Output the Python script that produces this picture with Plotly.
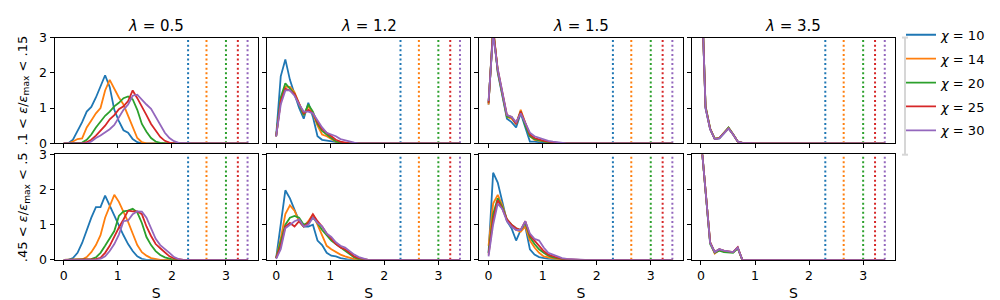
import plotly.graph_objects as go

# S grid (bin positions) shared by every panel, 41 points from 0 to 3.4
S_STEP = 0.085
S = [round(i * S_STEP, 3) for i in range(41)]

CHI = [10, 14, 20, 25, 30]
COLORS = ["#1f77b4", "#ff7f0e", "#2ca02c", "#d62728", "#9467bd"]
LAMBDAS = ["0.5", "1.2", "1.5", "3.5"]
ROW_LABELS = [".1 < <i>ε</i>/<i>ε</i><sub>max</sub> < .15",
              ".45 < <i>ε</i>/<i>ε</i><sub>max</sub> < .5"]
# dotted markers, S_max for each chi
S_MAX = [2.30, 2.64, 3.00, 3.22, 3.40]

# distributions (leading part only, the rest is zero)
LAM05_TOP = [
    [0, 0, 0.1, 0.35, 0.6, 0.9, 1.03, 1.3, 1.6, 1.93, 1.6, 0.95, 0.63, 0.37, 0.3, 0.12, 0.03],
    [0, 0, 0.05, 0.12, 0.14, 0.45, 0.65, 0.85, 1.0, 1.5, 1.8, 1.55, 1.3, 1.1, 0.8, 0.45, 0.15, 0.03],
    [0, 0, 0, 0, 0.02, 0.1, 0.25, 0.45, 0.62, 0.78, 0.9, 1.05, 1.15, 1.28, 1.33, 1.25, 0.95, 0.55,
     0.33, 0.15, 0.05, 0.01],
    [0, 0, 0, 0, 0, 0.03, 0.1, 0.22, 0.35, 0.5, 0.68, 0.8, 0.97, 1.05, 1.2, 1.5, 1.28, 1.02, 0.8,
     0.55, 0.35, 0.18, 0.07, 0.02],
    [0, 0, 0, 0, 0, 0, 0.05, 0.15, 0.22, 0.3, 0.4, 0.52, 0.75, 0.95, 1.1, 1.35, 1.38, 1.23, 1.1,
     0.98, 0.75, 0.5, 0.3, 0.15, 0.06, 0.01],
]
LAM05_BOT = [
    [0, 0, 0.05, 0.2, 0.48, 0.85, 1.2, 1.5, 1.5, 1.83, 1.55, 1.25, 0.95, 0.7, 0.45, 0.25, 0.1, 0.03],
    [0, 0, 0, 0, 0.01, 0.08, 0.22, 0.42, 0.7, 1.2, 1.55, 1.85, 1.65, 1.38, 1.08, 0.75, 0.42, 0.22,
     0.12, 0.05, 0.02],
    [0, 0, 0, 0, 0, 0, 0.02, 0.07, 0.2, 0.4, 0.6, 0.82, 1.25, 1.38, 1.4, 1.45, 1.35, 1.05, 0.65,
     0.42, 0.25, 0.14, 0.07, 0.03],
    [0, 0, 0, 0, 0, 0, 0, 0.02, 0.06, 0.2, 0.4, 0.68, 0.92, 1.15, 1.4, 1.38, 1.38, 1.3, 0.95, 0.68,
     0.45, 0.33, 0.22, 0.1, 0.04, 0.01],
    [0, 0, 0, 0, 0, 0, 0, 0, 0.03, 0.1, 0.25, 0.45, 0.72, 1.1, 1.12, 1.3, 1.38, 1.37, 1.2, 0.9,
     0.6, 0.42, 0.32, 0.2, 0.08, 0.02],
]
LAM12_TOP = [
    [0.2, 1.9, 2.38, 1.8, 1.4, 1.0, 0.7, 1.15, 0.75, 0.2, 0.1, 0.08, 0.05, 0.02],
    [0.2, 1.2, 1.6, 1.6, 1.45, 1.1, 0.8, 1.05, 0.85, 0.5, 0.25, 0.2, 0.12, 0.05, 0.02],
    [0.2, 1.3, 1.7, 1.55, 1.4, 1.1, 0.8, 1.1, 0.9, 0.55, 0.35, 0.25, 0.15, 0.05, 0.02],
    [0.2, 1.2, 1.55, 1.5, 1.4, 1.1, 0.85, 0.95, 0.85, 0.6, 0.4, 0.3, 0.2, 0.1, 0.05, 0.02],
    [0.2, 1.1, 1.5, 1.5, 1.35, 1.1, 0.9, 0.9, 0.85, 0.65, 0.45, 0.3, 0.25, 0.2, 0.12, 0.08, 0.05,
     0.02],
]
LAM12_BOT = [
    [0.05, 1.0, 1.98, 1.75, 1.4, 1.1, 0.95, 0.95, 1.0, 0.55, 0.42, 0.2, 0.12, 0.1, 0.05, 0.02],
    [0.05, 0.6, 1.3, 1.55, 1.4, 1.1, 0.95, 1.1, 1.3, 1.0, 0.7, 0.4, 0.3, 0.22, 0.15, 0.1, 0.05, 0.02],
    [0.05, 0.5, 1.0, 1.2, 1.25, 1.2, 1.0, 1.05, 1.2, 1.05, 0.85, 0.7, 0.55, 0.45, 0.35, 0.25, 0.15,
     0.07, 0.02],
    [0.05, 0.4, 0.95, 1.05, 0.95, 1.1, 0.95, 1.05, 1.3, 1.1, 0.95, 0.75, 0.6, 0.45, 0.35, 0.3, 0.2,
     0.1, 0.05, 0.02],
    [0.03, 0.3, 0.9, 1.0, 1.1, 1.15, 0.95, 1.0, 1.2, 1.05, 0.95, 0.75, 0.65, 0.5, 0.4, 0.35, 0.25,
     0.15, 0.08, 0.03],
]
LAM15_TOP = [
    [1.1, 3.3, 2.0, 1.35, 0.7, 0.6, 0.45, 0.85, 0.45, 0.05, 0.05, 0.03, 0.02],
    [1.1, 3.3, 2.05, 1.4, 0.75, 0.7, 0.55, 0.95, 0.55, 0.2, 0.1, 0.08, 0.05, 0.03, 0.02],
    [1.15, 3.2, 2.05, 1.4, 0.75, 0.75, 0.55, 0.9, 0.5, 0.2, 0.12, 0.08, 0.05, 0.03, 0.02],
    [1.15, 3.2, 2.1, 1.4, 0.8, 0.75, 0.55, 0.9, 0.55, 0.25, 0.15, 0.1, 0.07, 0.05, 0.03, 0.02],
    [1.2, 3.1, 2.1, 1.4, 0.8, 0.75, 0.6, 0.85, 0.55, 0.3, 0.2, 0.15, 0.1, 0.07, 0.05, 0.03, 0.02],
]
LAM15_BOT = [
    [0.2, 2.48, 2.2, 1.65, 1.1, 0.9, 0.55, 0.85, 0.95, 0.3, 0.15, 0.08, 0.05, 0.03, 0.02],
    [0.4, 1.6, 1.85, 1.55, 1.15, 0.95, 0.85, 0.8, 0.95, 0.55, 0.35, 0.2, 0.1, 0.06, 0.04, 0.02],
    [0.2, 1.3, 1.75, 1.5, 1.15, 1.0, 0.9, 0.85, 1.05, 0.65, 0.45, 0.3, 0.2, 0.12, 0.07, 0.04, 0.02],
    [0.15, 1.15, 1.7, 1.45, 1.15, 1.0, 0.9, 0.85, 1.1, 0.7, 0.55, 0.4, 0.25, 0.15, 0.1, 0.06, 0.03,
     0.02],
    [0.1, 1.0, 1.6, 1.45, 1.1, 0.95, 0.85, 0.85, 1.1, 0.75, 0.6, 0.55, 0.35, 0.2, 0.15, 0.1, 0.05,
     0.03, 0.02],
]
LAM35_TOP = [
    [5.0, 1.0, 0.4, 0.12, 0.14, 0.28, 0.42, 0.25, 0.05, 0.01],
    [5.0, 1.05, 0.42, 0.13, 0.15, 0.3, 0.44, 0.26, 0.05, 0.01],
    [5.0, 1.05, 0.42, 0.13, 0.15, 0.3, 0.45, 0.26, 0.05, 0.01],
    [5.0, 1.02, 0.41, 0.12, 0.15, 0.29, 0.43, 0.25, 0.05, 0.01],
    [5.0, 1.0, 0.4, 0.12, 0.14, 0.28, 0.42, 0.25, 0.05, 0.01],
]
LAM35_BOT = [
    [3.45, 1.9, 0.5, 0.22, 0.3, 0.25, 0.22, 0.22, 0.35, 0.0],
    [3.45, 1.9, 0.5, 0.18, 0.28, 0.24, 0.22, 0.22, 0.33, 0.0],
    [3.45, 1.85, 0.45, 0.2, 0.26, 0.22, 0.2, 0.2, 0.33, 0.0],
    [3.45, 1.95, 0.5, 0.22, 0.3, 0.26, 0.23, 0.22, 0.36, 0.0],
    [3.45, 1.9, 0.48, 0.22, 0.3, 0.26, 0.23, 0.22, 0.35, 0.0],
]
PANELS = [[LAM05_TOP, LAM12_TOP, LAM15_TOP, LAM35_TOP],
          [LAM05_BOT, LAM12_BOT, LAM15_BOT, LAM35_BOT]]


def full(vals):
    return list(vals) + [0.0] * (len(S) - len(vals))


# panel geometry in pixels (1000x300 canvas)
W, H = 1000, 300
COL_LEFT = [46.5, 258.9, 471.3, 683.7]
COL_W = 203.4
ROW_TOP = [22.7, 145.7]
ROW_H = [111.3, 111.0]

fig = go.Figure()
layout = dict(width=W, height=H, margin=dict(l=0, r=0, t=0, b=0),
              plot_bgcolor="white", paper_bgcolor="white",
              font=dict(family="DejaVu Sans", color="black", size=13),
              showlegend=True)
annotations = []

for r in range(2):
    for c in range(4):
        k = r * 4 + c + 1
        xa = "x" if k == 1 else f"x{k}"
        ya = "y" if k == 1 else f"y{k}"
        for i, chi in enumerate(CHI):
            fig.add_trace(go.Scatter(
                x=[S_MAX[i], S_MAX[i]], y=[0, 3], mode="lines",
                line=dict(color=COLORS[i], width=2, dash="2px,2.6px"),
                showlegend=False, hoverinfo="skip", xaxis=xa, yaxis=ya))
        for i, chi in enumerate(CHI):
            fig.add_trace(go.Scatter(
                x=S, y=full(PANELS[r][c][i]), mode="lines",
                line=dict(color=COLORS[i], width=1.8),
                name=f"<i>χ</i> = {chi}", legendgroup=f"g{i}",
                showlegend=(k == 1), xaxis=xa, yaxis=ya))

        x0 = COL_LEFT[c] / W
        x1 = (COL_LEFT[c] + COL_W) / W
        y1 = 1 - ROW_TOP[r] / H
        y0 = 1 - (ROW_TOP[r] + ROW_H[r]) / H
        axis_common = dict(showline=True, mirror=True, linecolor="black", linewidth=1,
                           ticks="outside", ticklen=4, tickcolor="black",
                           showgrid=False, zeroline=False,
                           tickfont=dict(size=12.5))
        layout["xaxis" if k == 1 else f"xaxis{k}"] = dict(
            axis_common, domain=[x0, x1], anchor=ya, range=[-0.171, 3.591],
            tickvals=[0, 1, 2, 3], showticklabels=(r == 1),
            title=dict(text="S", font=dict(size=14), standoff=6) if r == 1 else None)
        layout["yaxis" if k == 1 else f"yaxis{k}"] = dict(
            axis_common, domain=[y0, y1], anchor=xa, range=[0, 3],
            tickvals=[0, 1, 2, 3], showticklabels=(c == 0))
        if r == 0:
            annotations.append(dict(
                text=f"<i>λ</i> = {LAMBDAS[c]}", x=(x0 + x1) / 2, y=1 - 10.5 / H,
                xref="paper", yref="paper", showarrow=False,
                font=dict(size=15), xanchor="center", yanchor="middle"))
    annotations.append(dict(
        text=ROW_LABELS[r], x=15 / W, y=1 - (ROW_TOP[r] + ROW_H[r] / 2) / H,
        xref="paper", yref="paper", showarrow=False, textangle=-90,
        font=dict(size=13), xanchor="center", yanchor="middle"))

layout["annotations"] = annotations
layout["legend"] = dict(x=893 / W, y=1 - 4 / H, xanchor="left", yanchor="top",
                        font=dict(size=13), tracegroupgap=4, bgcolor="rgba(0,0,0,0)",
                        itemwidth=30)
# faint bracket to the left of the legend
gray = dict(color="#d6d6d6", width=2)
layout["shapes"] = [
    dict(type="line", xref="paper", yref="paper", x0=897 / W, x1=897 / W,
         y0=1 - 146 / H, y1=1 - 22.7 / H, line=gray),
    dict(type="line", xref="paper", yref="paper", x0=894 / W, x1=900 / W,
         y0=1 - 22.7 / H, y1=1 - 22.7 / H, line=gray),
    dict(type="line", xref="paper", yref="paper", x0=894 / W, x1=900 / W,
         y0=1 - 146 / H, y1=1 - 146 / H, line=gray),
]
fig.update_layout(**layout)
fig.write_html("out.html")
